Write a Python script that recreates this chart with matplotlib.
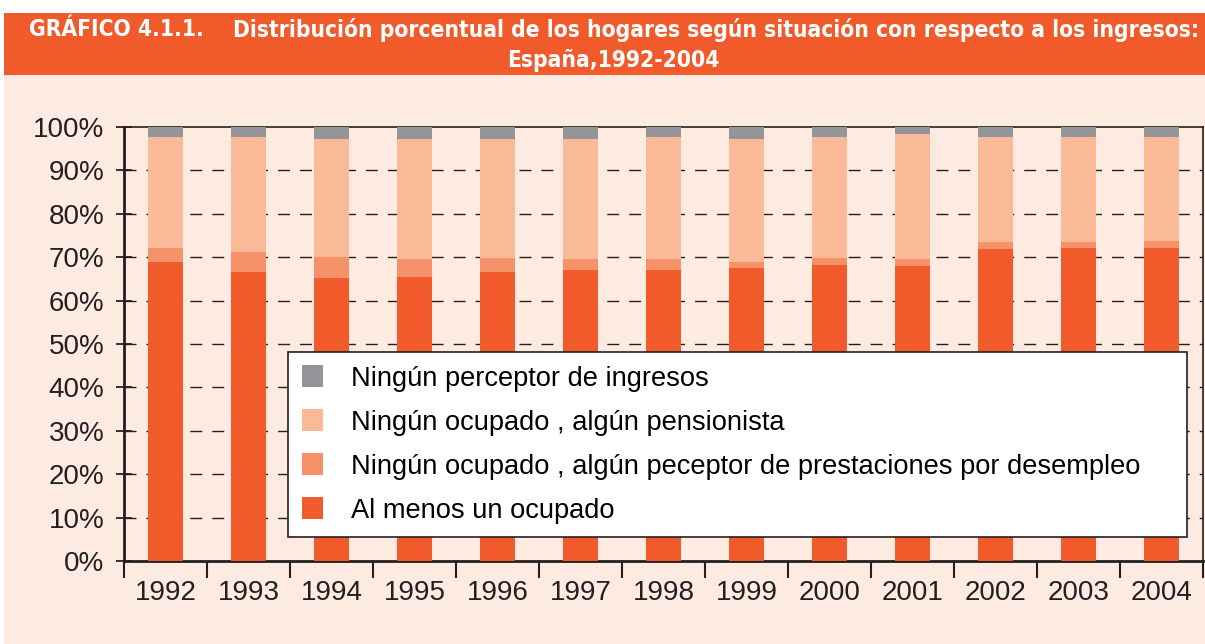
# Distribución porcentual de los hogares según situación respecto a los ingresos
import numpy as np
import matplotlib
matplotlib.use("Agg")
from matplotlib import pyplot as plt
from matplotlib import font_manager
from matplotlib.patches import Rectangle

years = ["1992", "1993", "1994", "1995", "1996", "1997", "1998",
         "1999", "2000", "2001", "2002", "2003", "2004"]

# porcentajes (de abajo a arriba)
al_menos_un_ocupado = [68.8, 66.7, 65.1, 65.5, 66.5, 67.0, 67.0, 67.4, 68.2, 67.9, 71.8, 72.2, 72.2]
desempleo = [3.4, 4.6, 4.9, 4.0, 3.4, 2.5, 2.5, 1.6, 1.7, 1.6, 1.6, 1.2, 1.6]
pensionista = [25.4, 26.3, 27.2, 27.7, 27.3, 27.7, 28.1, 28.2, 27.7, 29.0, 24.2, 24.2, 23.8]
sin_ingresos = [2.4, 2.4, 2.8, 2.8, 2.8, 2.8, 2.4, 2.8, 2.4, 1.9, 2.4, 2.4, 2.4]

labels = ["Al menos un ocupado",
          "Ningún ocupado , algún peceptor de prestaciones por desempleo",
          "Ningún ocupado , algún pensionista",
          "Ningún perceptor de ingresos"]
colors = ["#F15A2B", "#F6926A", "#FABA98", "#939598"]

# buscar una fuente condensada en negrita para el titulo
cond = [f.fname for f in font_manager.fontManager.ttflist
        if "Condensed" in f.fname and "Bold" in f.fname and "Italic" not in f.fname
        and "Oblique" not in f.fname and "Extra" not in f.fname and "Semi" not in f.fname]
if cond:
    tprops = dict(fontproperties=font_manager.FontProperties(fname=sorted(cond)[0], size=16.3))
else:
    tprops = dict(family="Roboto", fontweight="bold", fontsize=15.5)

plt.rcParams["font.family"] = ["Liberation Sans", "DejaVu Sans"]

fig = plt.figure(figsize=(12.05, 6.44), dpi=100, facecolor="white")

# fondo y banda del titulo
fig.patches.append(Rectangle((4 / 1205, 0), 1, 1 - 75 / 644, transform=fig.transFigure,
                             facecolor="#FDEBE1", edgecolor="none", zorder=-10))
fig.patches.append(Rectangle((4 / 1205, 1 - 75 / 644), 1, 62 / 644, transform=fig.transFigure,
                             facecolor="#F15A2B", edgecolor="none", zorder=-10))
fig.text(29 / 1205, 1 - 30 / 644, "GRÁFICO 4.1.1.", color="white",
         ha="left", va="center", **tprops)
fig.text(1199 / 1205, 1 - 30 / 644,
         "Distribución porcentual de los hogares según situación con respecto a los ingresos:",
         color="white", ha="right", va="center", **tprops)
fig.text(613 / 1205, 1 - 60 / 644, "España,1992-2004", color="white",
         ha="center", va="center", **tprops)

ax = fig.add_axes([124 / 1205, 1 - 561 / 644, 1079 / 1205, 434 / 644])
ax.set_facecolor("none")

x = np.arange(len(years))
series = [al_menos_un_ocupado, desempleo, pensionista, sin_ingresos]
bottom = np.zeros(len(years))
bars = []
for vals, col, lab in zip(series, colors, labels):
    b = ax.bar(x, vals, 0.41, bottom=bottom, color=col, label=lab, zorder=3)
    bars.append(b)
    bottom += np.array(vals)

ax.set_xlim(-0.5, len(years) - 0.5)
ax.set_ylim(0, 100)

for yv in range(10, 100, 10):
    ax.axhline(yv, color="#231F20", lw=1.0, linestyle=(0, (8.6, 7.2)), zorder=1)

ax.set_yticks(range(0, 101, 10))
ax.set_yticklabels([f"{v}%" for v in range(0, 101, 10)])
ax.tick_params(axis="y", direction="inout", length=12, width=1.3, pad=8,
               labelsize=20, colors="#231F20")

ax.set_xticks(x)
ax.set_xticklabels(years)
ax.set_xticks(np.arange(-0.5, len(years)), minor=True)
ax.tick_params(axis="x", which="major", length=0, pad=14, labelsize=20, colors="#231F20")
ax.tick_params(axis="x", which="minor", direction="out", length=12, width=1.5, color="#231F20")

for side in ["left", "bottom"]:
    ax.spines[side].set_linewidth(2.0)
    ax.spines[side].set_color("#231F20")
for side in ["top", "right"]:
    ax.spines[side].set_linewidth(1.2)
    ax.spines[side].set_color("#231F20")

handles = bars[::-1]
leg = ax.legend(handles, labels[::-1], loc="lower left",
                bbox_to_anchor=(0.152, 0.055, 0.833, 0.4266), mode="expand",
                fontsize=19.6, frameon=True, fancybox=False, edgecolor="#231F20",
                framealpha=1, handlelength=0.78, handleheight=0.82, handletextpad=1.05,
                labelspacing=0.66, borderpad=0.5, borderaxespad=0)
leg.get_frame().set_linewidth(1.2)
leg.set_zorder(5)

fig.savefig("out.png", dpi=100, facecolor=fig.get_facecolor())
